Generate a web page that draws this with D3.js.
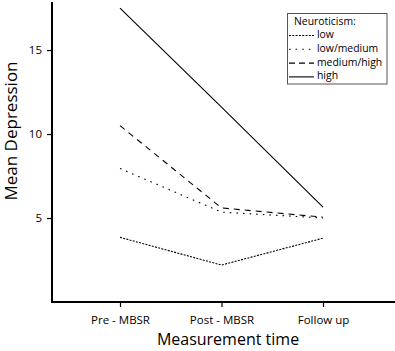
<!DOCTYPE html>
<html>
<head>
<meta charset="utf-8">
<script src="https://cdn.jsdelivr.net/npm/d3@7"></script>
<style>
  body { margin: 0; background: #fff; }
  svg { display: block; font-family: "Open Sans", sans-serif; }
</style>
</head>
<body>
<svg width="395" height="351"></svg>
<script>
const timepoints = ['Pre - MBSR', 'Post - MBSR', 'Follow up'];
const groupNames = ['low', 'low/medium', 'medium/high', 'high'];
const lowValues = [3.85, 2.2, 3.8];
const lowMediumValues = [7.95, 5.35, 5.0];
const mediumHighValues = [10.5, 5.6, 5.05];
const highValues = [17.5, 11.6, 5.65];
const yTicks = [5, 10, 15];

const dashes = ['2,1.3', '1.6,5', '6,5', null];
const seriesValues = [lowValues, lowMediumValues, mediumHighValues, highValues];

const svg = d3.select('svg');
const plotLeft = 52, plotRight = 395, plotTop = 2, plotBottom = 302;

const x = d3.scalePoint()
    .domain(timepoints)
    .range([120, 323]);
const y = d3.scaleLinear()
    .domain([0, 17.86])
    .range([plotBottom, plotTop]);

// axes
const yAxis = svg.append('g')
    .attr('transform', `translate(${plotLeft},0)`)
    .call(d3.axisLeft(y).tickValues(yTicks).tickSize(5).tickSizeOuter(0));
const xAxis = svg.append('g')
    .attr('transform', `translate(0,${plotBottom})`)
    .call(d3.axisBottom(x).tickSize(5).tickSizeOuter(0));

yAxis.select('.domain').remove();
xAxis.select('.domain').remove();
svg.append('path')
    .attr('d', `M${plotLeft},${plotTop}V${plotBottom}H${plotRight}`)
    .attr('fill', 'none')
    .attr('stroke', '#000')
    .attr('stroke-width', 2);

yAxis.selectAll('.tick line').attr('stroke-width', 1.2);
xAxis.selectAll('.tick line').attr('stroke-width', 1.2);
yAxis.selectAll('.tick text')
    .attr('font-size', 11.5)
    .attr('font-family', '"Open Sans", sans-serif')
    .attr('x', -10);
xAxis.selectAll('.tick text')
    .attr('font-size', 11.5)
    .attr('font-family', '"Open Sans", sans-serif')
    .attr('y', 14);

// axis titles
svg.append('text')
    .attr('x', 228)
    .attr('y', 345)
    .attr('text-anchor', 'middle')
    .attr('font-size', 16)
    .text('Measurement time');
svg.append('text')
    .attr('transform', 'translate(17,131) rotate(-90)')
    .attr('text-anchor', 'middle')
    .attr('font-size', 17)
    .text('Mean Depression');

// lines
const line = d3.line()
    .x((d, i) => x(timepoints[i]))
    .y(d => y(d));

svg.selectAll('.series')
    .data(seriesValues)
    .enter()
    .append('path')
    .attr('class', 'series')
    .attr('d', line)
    .attr('fill', 'none')
    .attr('stroke', '#000')
    .attr('stroke-width', 1.1)
    .attr('stroke-dasharray', (d, i) => dashes[i]);

// legend
const legend = svg.append('g');
legend.append('rect')
    .attr('x', 287.5)
    .attr('y', 13.5)
    .attr('width', 99.5)
    .attr('height', 70.5)
    .attr('fill', '#fff')
    .attr('stroke', '#555')
    .attr('stroke-width', 1);
legend.append('text')
    .attr('x', 294)
    .attr('y', 25)
    .attr('font-size', 10.4)
    .text('Neuroticism:');
const item = legend.selectAll('.item')
    .data(groupNames)
    .enter()
    .append('g')
    .attr('transform', (d, i) => `translate(0,${35.5 + i * 13.8})`);
item.append('line')
    .attr('x1', 289)
    .attr('x2', 314)
    .attr('y1', 0)
    .attr('y2', 0)
    .attr('stroke', '#000')
    .attr('stroke-width', 1.1)
    .attr('stroke-dasharray', (d, i) => i === 2 ? '6,4' : dashes[i]);
item.append('text')
    .attr('x', 317)
    .attr('y', 2.5)
    .attr('font-size', 10.4)
    .text(d => d);
</script>
</body>
</html>
